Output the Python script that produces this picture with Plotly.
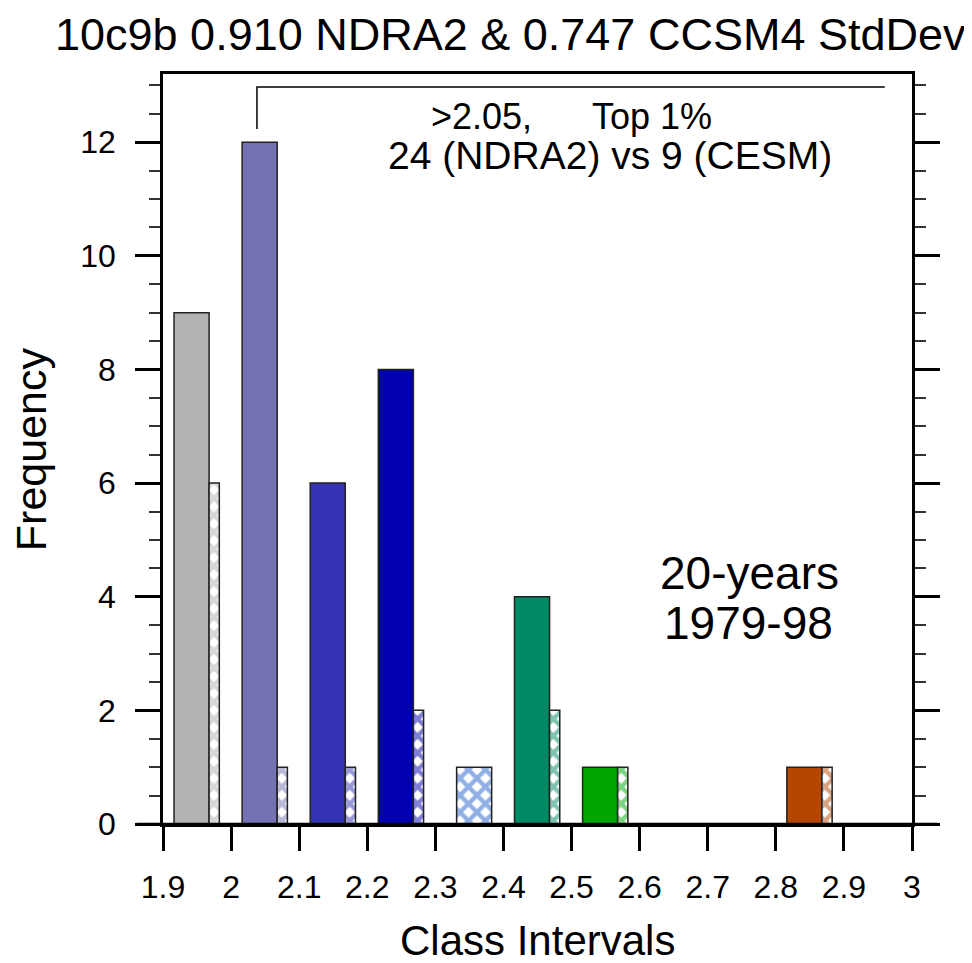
import plotly.graph_objects as go

# ---- data ----
bin_centers = [1.95, 2.05, 2.15, 2.25, 2.35, 2.45, 2.55, 2.65, 2.75, 2.85, 2.95]
ndra2_freq = [9, 12, 6, 8, 0, 4, 1, 0, 0, 1, 0]
cesm_freq = [6, 1, 1, 2, 1, 2, 1, 0, 0, 1, 0]
bin_colors = ["#b3b3b3", "#7373b3", "#3333b3", "#0000b0", "#1f5fcc",
              "#008a64", "#00a600", "#00a600", "#00a600", "#b34700", "#b34700"]
x_tick_vals = [1.9, 2.0, 2.1, 2.2, 2.3, 2.4, 2.5, 2.6, 2.7, 2.8, 2.9, 3.0]
x_tick_text = ["1.9", "2", "2.1", "2.2", "2.3", "2.4", "2.5", "2.6", "2.7", "2.8", "2.9", "3"]
y_tick_vals = [0, 2, 4, 6, 8, 10, 12]

# ---- styles ----
FONT = "Liberation Sans, Arial, sans-serif"
fill_w, fill_off = 0.0515, -0.0338
hatch_w, hatch_off = 0.0150, 0.0177
hatch_widths = [hatch_w] * len(bin_centers)
hatch_offsets = [hatch_off] * len(bin_centers)
hatch_widths[4] = fill_w          # lone CESM bar in the 2.3-2.4 bin is wide
hatch_offsets[4] = -0.0188
hatch_fg = list(bin_colors)
hatch_fg[0] = "#b0b0b0"

fig = go.Figure()
fig.add_trace(go.Bar(
    x=bin_centers, y=ndra2_freq, width=fill_w, offset=fill_off,
    marker=dict(color=bin_colors, line=dict(color="#222222", width=1.5)),
    showlegend=False, name="NDRA2"))
fig.add_trace(go.Bar(
    x=bin_centers, y=cesm_freq, width=hatch_widths, offset=hatch_offsets,
    marker=dict(color="white", line=dict(color="#222222", width=1.5),
                pattern=dict(shape="x", fgcolor=hatch_fg, bgcolor="white",
                             size=12, solidity=0.6, fillmode="overlay")),
    showlegend=False, name="CESM"))

# page body has an 8px margin, so the figure is sized to fit the window
fig.update_layout(
    width=964, height=955,
    margin=dict(l=155, r=60, t=66, b=139),
    paper_bgcolor="white", plot_bgcolor="white",
    barmode="overlay",
    font=dict(family=FONT, color="black"),
    xaxis=dict(range=[1.9, 3.0], tickvals=x_tick_vals, ticktext=x_tick_text,
               ticks="outside", ticklen=24, tickwidth=2.5, tickcolor="black",
               showline=True, linecolor="black", linewidth=2.5, mirror=True,
               showgrid=False, zeroline=False, tickfont=dict(size=32),
               ticklabelstandoff=9),
    yaxis=dict(range=[0, 13.2], tickvals=y_tick_vals,
               ticks="outside", ticklen=25, tickwidth=2.5, tickcolor="black",
               minor=dict(dtick=0.5, ticks="outside", ticklen=11, tickwidth=1.5,
                          tickcolor="#333", showgrid=False),
               showline=True, linecolor="black", linewidth=2.5, mirror="allticks",
               showgrid=False, zeroline=False, tickfont=dict(size=32),
               ticklabelstandoff=13),
)

# extended baseline
fig.add_shape(type="line", xref="paper", yref="paper", x0=-0.035, x1=1.035, y0=0, y1=0,
              line=dict(color="black", width=2.5))
# bracket
fig.add_shape(type="path", xref="x", yref="y",
              path="M 2.038 12.23 L 2.038 12.97 L 2.96 12.97",
              line=dict(color="black", width=1.5))

def ann(text, x, y, size, angle=0):
    fig.add_annotation(text=text, x=x, y=y, xref="paper", yref="paper",
                       xanchor="center", yanchor="middle", showarrow=False,
                       textangle=angle,
                       font=dict(size=size, family=FONT, color="black"))

ann("10c9b 0.910 NDRA2 &amp; 0.747 CCSM4 StdDev", 0.4646, 1.053, 45)
ann("Class Intervals", 0.5, -0.155, 42)
ann("Frequency", -0.176, 0.5, 43, -90)
ann("&gt;2.05,", 0.4252, 0.9427, 36)
ann("Top 1%", 0.6529, 0.9427, 36)
ann("24 (NDRA2) vs 9 (CESM)", 0.5968, 0.892, 39)
ann("20-years", 0.7837, 0.3347, 46)
ann("1979-98", 0.7817, 0.268, 46)

fig.write_html("out.html")
